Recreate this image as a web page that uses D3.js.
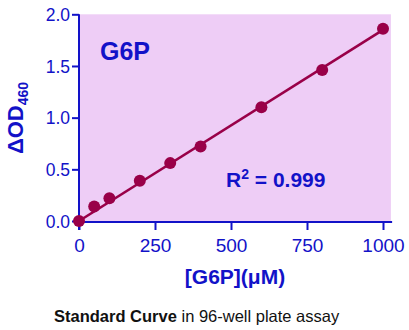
<!DOCTYPE html>
<html><head><meta charset="utf-8">
<script src="https://cdn.jsdelivr.net/npm/d3@7"></script>
<style>body{margin:0;background:#fff}svg{display:block;font-family:"Liberation Sans",Arial,sans-serif}</style>
</head><body>
<svg id="c" width="409" height="330"></svg>
<script>
const concentrations = [0, 50, 100, 200, 300, 400, 600, 800, 1000];
const odValues = [0.0, 0.14, 0.22, 0.39, 0.56, 0.72, 1.10, 1.46, 1.86];
const fitX = [0, 1000];
const fitY = [0.0, 1.85];
const xTicks = [0, 250, 500, 750, 1000];
const yTicks = [0.0, 0.5, 1.0, 1.5, 2.0];

const svg = d3.select("#c");
const blue = "#1212c8";
const x = d3.scaleLinear().domain([0, 1000]).range([79, 383]);
const y = d3.scaleLinear().domain([0, 2]).range([221, 14.3]);

svg.append("rect").attr("x", x(0)).attr("y", y(2)).attr("width", x(1026) - x(0)).attr("height", y(0) - y(2)).attr("fill", "#eecdf6");

const xa = svg.append("g").attr("transform", `translate(0,${y(0)+1})`)
  .call(d3.axisBottom(x).tickValues(xTicks).tickFormat(d3.format("d")).tickSize(8).tickSizeOuter(0));
xa.select(".domain").attr("d", `M${x(0)},0H${x(1030)}`);
const ya = svg.append("g").attr("transform", `translate(${x(0)},0)`)
  .call(d3.axisLeft(y).tickValues(yTicks).tickFormat(d3.format(".1f")).tickSize(7).tickSizeOuter(0));
ya.select(".domain").attr("d", `M0,${y(2)}V${y(0)+9}`);
[xa, ya].forEach(a => {
  a.attr("font-size", null).attr("font-family", null);
  a.selectAll("path,line").attr("stroke", blue).attr("stroke-width", 2);
  a.selectAll("text").attr("fill", blue);
});
xa.selectAll("text").attr("font-size", 19).attr("dy", null).attr("y", 30);
ya.selectAll("text").attr("font-size", 17.5).attr("x", -9).attr("dy", "0.36em");

const line = d3.line().x(d => x(d[0])).y(d => y(d[1]));
svg.append("path").datum(fitX.map((v, i) => [v, fitY[i]])).attr("d", line)
  .attr("stroke", "#990048").attr("stroke-width", 2.6).attr("fill", "none");
svg.selectAll("circle.p").data(concentrations).enter().append("circle")
  .attr("cx", d => x(d)).attr("cy", (d, i) => y(odValues[i])).attr("r", 6).attr("fill", "#990048");

svg.append("text").attr("x", 100).attr("y", 60).attr("fill", blue).attr("font-size", 25).attr("font-weight", "bold").text("G6P");
const r = svg.append("text").attr("x", 226).attr("y", 187).attr("fill", blue).attr("font-size", 21).attr("font-weight", "bold");
r.append("tspan").text("R");
r.append("tspan").attr("font-size", 14).attr("dy", -8).text("2");
r.append("tspan").attr("dy", 8).text(" = 0.999");

const yl = svg.append("text").attr("transform", "translate(23,118) rotate(-90)").attr("text-anchor", "middle")
  .attr("fill", blue).attr("font-size", 22).attr("font-weight", "bold");
yl.append("tspan").text("ΔOD");
yl.append("tspan").attr("font-size", 14).attr("dy", 5).text("460");

svg.append("text").attr("x", 235).attr("y", 284).attr("text-anchor", "middle").attr("fill", blue)
  .attr("font-size", 21).attr("font-weight", "bold").text("[G6P](μM)");

const cap = svg.append("text").attr("x", 54).attr("y", 322).attr("fill", "#111").attr("font-size", 16.5);
cap.append("tspan").attr("font-weight", "bold").text("Standard Curve");
cap.append("tspan").text(" in 96-well plate assay");
</script>
</body></html>
